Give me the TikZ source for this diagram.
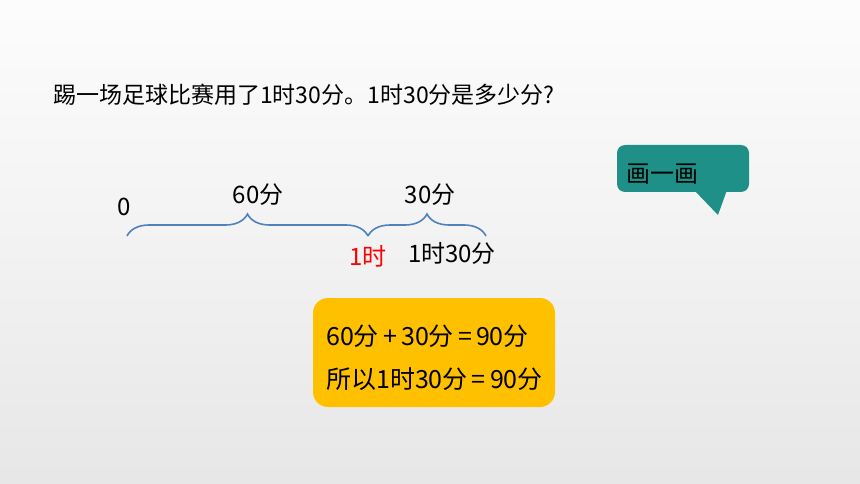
\documentclass[tikz,border=0pt]{standalone}
\usepackage{fontspec}
\setmainfont{Noto Sans CJK SC}
\usetikzlibrary{decorations.pathreplacing}
\definecolor{bracec}{HTML}{4F81BD}
\definecolor{tealc}{HTML}{1F9087}
\definecolor{yellowc}{HTML}{FFC000}
\pgfdeclareverticalshading{bgshade}{100bp}{
  color(0bp)=(white!86!black);
  color(50bp)=(white!95!black);
  color(82bp)=(white);
  color(100bp)=(white)}
\begin{document}
\begin{tikzpicture}[x=1pt,y=-1pt,
  lbl/.style={font=\fontsize{24}{28}\selectfont, inner sep=0pt, text=black},
  ttl/.style={font=\fontsize{23}{27}\selectfont, inner sep=0pt, text=black},
  eqn/.style={font=\fontsize{25}{29}\selectfont, inner sep=0pt, text=black},
  bracepath/.style={draw=bracec, line width=1.6pt, decorate, decoration={brace, amplitude=22pt}},
  anspanel/.style={fill=yellowc, rounded corners=15pt, draw=none},
]
\useasboundingbox (0,0) rectangle (860,484);
\shade[shading=bgshade] (0,0) rectangle (860,484);

% title
\node[ttl, anchor=west] (title) at (53,95) {踢一场足球比赛用了1时30分。1时30分是多少分?};

% braces
\coordinate (b0) at (127,236);
\coordinate (b1) at (368,236);
\coordinate (b2) at (486,236);
\draw[bracepath] (b0) -- (b1);
\draw[bracepath] (b1) -- (b2);
\node[lbl] (zero) at (124,207) {0};
\node[lbl] (sixty) at (258,195) {60分};
\node[lbl] (thirty) at (430,195) {30分};
\node[lbl, text=red] (onehour) at (368,256) {1时};
\node[lbl] (total) at (452,253) {1时30分};

% callout
\fill[tealc] (694,190) -- (718,215) -- (727,190) -- cycle;
\node[fill=tealc, rounded corners=8pt, minimum width=132pt, minimum height=47pt, inner sep=0pt] (callbox) at (683,168.5) {};
\node[lbl, anchor=west] (draw1) at (626,174) {画一画};

% answer panel
\node[anspanel, minimum width=242pt, minimum height=109pt, inner sep=0pt] (panel) at (434,352.5) {};
\node[eqn, anchor=west] (eq1) at (326,336) {60分\,+\,30分\,=\,90分};
\node[eqn, anchor=west] (eq2) at (326,379) {所以1时30分\,=\,90分};
\end{tikzpicture}
\end{document}
